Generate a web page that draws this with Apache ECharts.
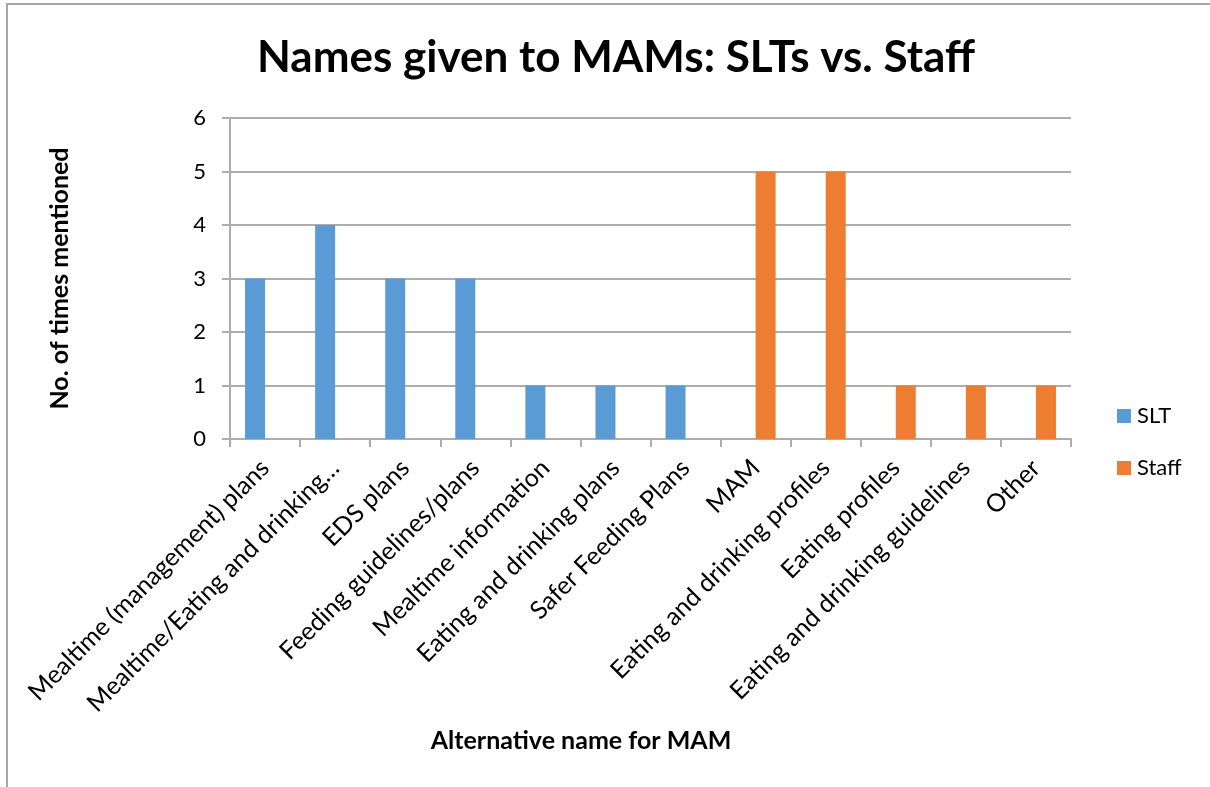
<!DOCTYPE html>
<html>
<head>
<meta charset="utf-8">
<title>Names given to MAMs: SLTs vs. Staff</title>
<script src="https://cdn.jsdelivr.net/npm/echarts@6/dist/echarts.min.js"></script>
<style>
  html, body { margin: 0; padding: 0; background: #ffffff; }
  #chart { width: 1210px; height: 787px; }
</style>
</head>
<body>
<div id="chart"></div>
<script>
// Alternative names for mealtime management plans, counted per respondent group
const categories = [
  'Mealtime (management) plans',
  'Mealtime/Eating and drinking…',
  'EDS plans',
  'Feeding guidelines/plans',
  'Mealtime information',
  'Eating and drinking plans',
  'Safer Feeding Plans',
  'MAM',
  'Eating and drinking profiles',
  'Eating profiles',
  'Eating and drinking guidelines',
  'Other'
];
const sltCounts   = [3, 4, 3, 3, 1, 1, 1, 0, 0, 0, 0, 0];
const staffCounts = [0, 0, 0, 0, 0, 0, 0, 5, 5, 1, 1, 1];
const yTicks = [0, 1, 2, 3, 4, 5, 6];

const FONT = 'Lato, "Open Sans", sans-serif';
const GRID_GRAY = '#adadad';

const chart = echarts.init(document.getElementById('chart'), null, { renderer: 'canvas' });

chart.setOption({
  backgroundColor: '#ffffff',
  animation: false,
  title: [
    {
      text: 'Names given to MAMs: SLTs vs. Staff',
      left: 611,
      top: 31,
      textAlign: 'center',
      textStyle: { fontFamily: FONT, fontWeight: 'bold', fontSize: 44, color: '#000000' }
    },
    {
      text: 'Alternative name for MAM',
      left: 576,
      top: 723,
      textAlign: 'center',
      textStyle: { fontFamily: FONT, fontWeight: 'bold', fontSize: 25, color: '#000000' }
    }
  ],
  legend: {
    orient: 'vertical',
    left: 1112,
    top: 400,
    itemWidth: 14,
    itemHeight: 14,
    itemGap: 30,
    icon: 'rect',
    textStyle: { fontFamily: FONT, fontSize: 22, color: '#000000', padding: [0, 0, 0, 1] },
    data: ['SLT', 'Staff']
  },
  grid: { left: 230, right: 139, top: 118, bottom: 348, containLabel: false },
  xAxis: {
    type: 'category',
    data: categories,
    boundaryGap: true,
    axisLine: { show: true, lineStyle: { color: GRID_GRAY, width: 2 } },
    axisTick: { show: true, length: 8, lineStyle: { color: GRID_GRAY, width: 2 } },
    axisLabel: {
      interval: 0,
      rotate: 45,
      margin: 25,
      fontFamily: FONT,
      fontSize: 25,
      color: '#000000'
    }
  },
  yAxis: {
    type: 'value',
    min: 0,
    max: 6,
    interval: 1,
    name: 'No. of times mentioned',
    nameLocation: 'middle',
    nameGap: 158,
    nameTextStyle: { fontFamily: FONT, fontWeight: 'bold', fontSize: 25, color: '#000000' },
    axisLine: { show: true, lineStyle: { color: GRID_GRAY, width: 2 } },
    axisTick: { show: true, length: 8, lineStyle: { color: GRID_GRAY, width: 2 } },
    axisLabel: {
      margin: 24,
      fontFamily: FONT,
      fontSize: 22,
      color: '#000000',
      formatter: function (v) { return yTicks.indexOf(v) >= 0 ? String(v) : ''; }
    },
    splitLine: { show: true, lineStyle: { color: GRID_GRAY, width: 2 } }
  },
  series: [
    {
      name: 'SLT',
      type: 'bar',
      data: sltCounts,
      barWidth: 20,
      barGap: '0%',
      itemStyle: { color: '#5b9bd5' }
    },
    {
      name: 'Staff',
      type: 'bar',
      data: staffCounts,
      barWidth: 20,
      barGap: '0%',
      itemStyle: { color: '#ed7d31' }
    }
  ],
  graphic: [
    {
      // outer frame of the chart area (top and left edges)
      type: 'polyline',
      shape: { points: [[7, 800], [7, 4], [1220, 4]] },
      style: { stroke: '#a6a6a6', lineWidth: 2, fill: null },
      silent: true
    }
  ]
});
</script>
</body>
</html>
